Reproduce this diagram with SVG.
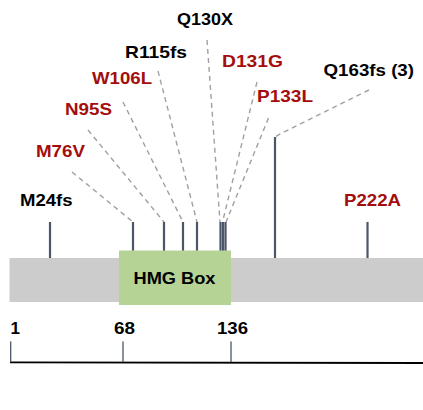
<svg xmlns="http://www.w3.org/2000/svg" width="423" height="410" viewBox="0 0 423 410">
<style>
text{font-family:"Liberation Sans",Arial,Helvetica,sans-serif;font-weight:bold;font-size:17px;fill:#000}
.red{fill:#a30d0d}
.stick{stroke:#4b566a;stroke-width:2.2}
.dash{stroke:#a0a0a0;stroke-width:1.4;stroke-dasharray:5,4;fill:none}
.tick{stroke:#4b566a;stroke-width:1.3}
</style>
<rect width="423" height="410" fill="#fff"/>
<g id="connectors">
<line class="dash" x1="72" y1="172" x2="133" y2="222"/>
<line class="dash" x1="88" y1="130" x2="164" y2="222"/>
<line class="dash" x1="123" y1="102" x2="183" y2="222"/>
<line class="dash" x1="158" y1="71" x2="197" y2="222"/>
<line class="dash" x1="207" y1="40" x2="220" y2="222"/>
<line class="dash" x1="257" y1="82" x2="222.5" y2="222"/>
<line class="dash" x1="268.5" y1="118" x2="226" y2="222"/>
<polyline class="dash" points="369,90 282,133 275,137"/>
</g>
<g id="sticks">
<line class="stick" x1="50" y1="222" x2="50" y2="258"/>
<line class="stick" x1="133" y1="222" x2="133" y2="258"/>
<line class="stick" x1="164" y1="222" x2="164" y2="258"/>
<line class="stick" x1="183" y1="222" x2="183" y2="258"/>
<line class="stick" x1="197" y1="222" x2="197" y2="258"/>
<line class="stick" x1="220.5" y1="222" x2="220.5" y2="258"/>
<line class="stick" x1="223" y1="222" x2="223" y2="258"/>
<line class="stick" x1="225.5" y1="222" x2="225.5" y2="258"/>
<line class="stick" x1="275" y1="137" x2="275" y2="258"/>
<line class="stick" x1="367.5" y1="222" x2="367.5" y2="258"/>
</g>
<g id="protein">
<rect x="9.5" y="258" width="414" height="44" fill="#cccccc"/>
</g>
<g id="hmg-box">
<rect x="119" y="250.5" width="112" height="54.5" fill="#b5d394"/>
<text x="174.5" y="283.5" text-anchor="middle" textLength="82" lengthAdjust="spacingAndGlyphs">HMG Box</text>
</g>
<g id="labels">
<text x="177" y="24.5" textLength="56" lengthAdjust="spacingAndGlyphs">Q130X</text>
<text x="125" y="57.5" textLength="62" lengthAdjust="spacingAndGlyphs">R115fs</text>
<text class="red" x="92" y="83.5" textLength="60" lengthAdjust="spacingAndGlyphs">W106L</text>
<text class="red" x="65" y="114.5" textLength="47" lengthAdjust="spacingAndGlyphs">N95S</text>
<text class="red" x="36" y="156.5" textLength="49" lengthAdjust="spacingAndGlyphs">M76V</text>
<text x="20" y="206" textLength="52.5" lengthAdjust="spacingAndGlyphs">M24fs</text>
<text class="red" x="222" y="66.5" textLength="61" lengthAdjust="spacingAndGlyphs">D131G</text>
<text class="red" x="257" y="101.5" textLength="56" lengthAdjust="spacingAndGlyphs">P133L</text>
<text x="323.5" y="75.5" textLength="90.5" lengthAdjust="spacingAndGlyphs">Q163fs (3)</text>
<text class="red" x="344" y="206" textLength="57" lengthAdjust="spacingAndGlyphs">P222A</text>
</g>
<g id="axis">
<line x1="10" y1="362.3" x2="423" y2="363" stroke="#000" stroke-width="1.8"/>
<line class="tick" x1="10.7" y1="341.5" x2="10.7" y2="362"/>
<line class="tick" x1="123" y1="341.5" x2="123" y2="362"/>
<line class="tick" x1="231" y1="341.5" x2="231" y2="362"/>
<text x="10.5" y="334">1</text>
<text x="114" y="334" textLength="21" lengthAdjust="spacingAndGlyphs">68</text>
<text x="217" y="334" textLength="31" lengthAdjust="spacingAndGlyphs">136</text>
</g>
</svg>
